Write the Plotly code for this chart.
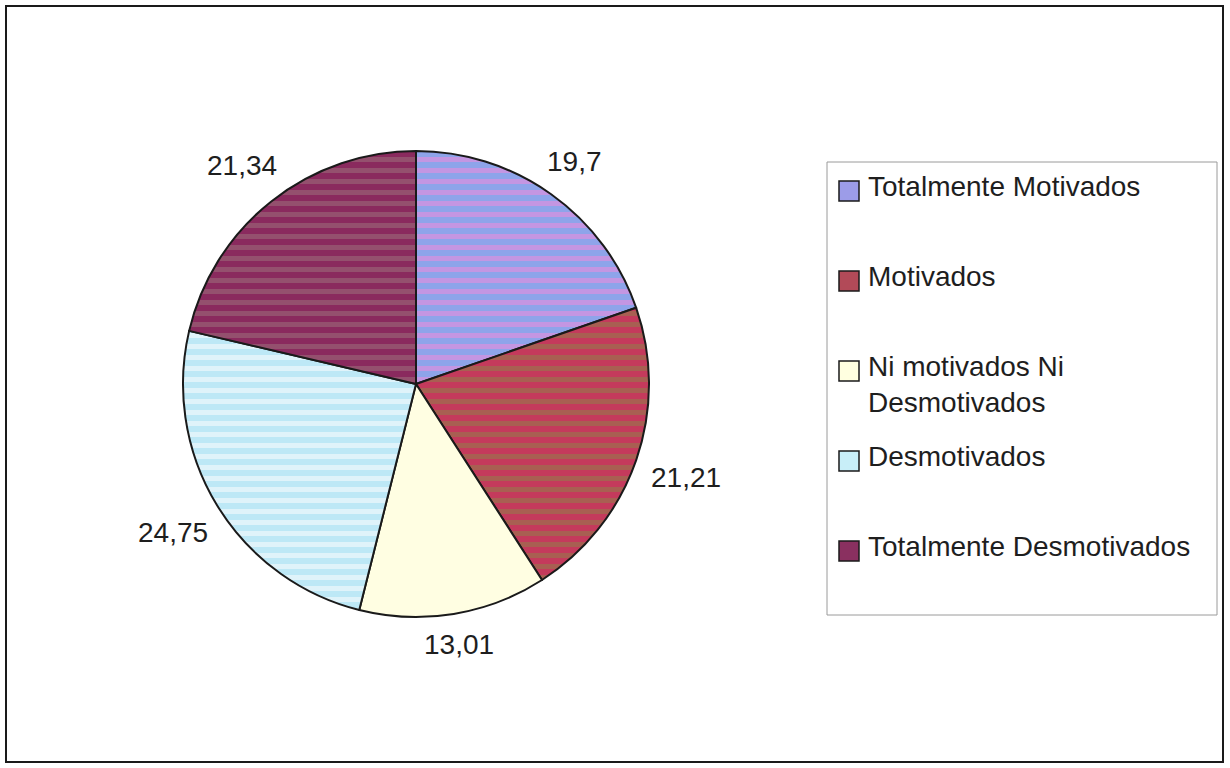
import math
import plotly.graph_objects as go

# ---- data ----
categories = [
    "Totalmente Motivados",
    "Motivados",
    "Ni motivados Ni Desmotivados",
    "Desmotivados",
    "Totalmente Desmotivados",
]
values = [19.7, 21.21, 13.01, 24.75, 21.34]

# ---- styles ----
W, H = 1230, 768
fill_colors = ["#8ea4ea", "#c43a5c", "#fffee2", "#bde8f6", "#8a2a5e"]
stripe_colors = ["#c496e2", "#a85f52", "#fffee2", "#dff3fa", "#94506e"]
swatch_colors = ["#9c9ce8", "#b24a58", "#ffffe0", "#c8eef8", "#8a3060"]
FONT = "Liberation Sans, Arial, sans-serif"
FS = 28
TEXT_COLOR = "#1e1e1e"

cx, cy, r = 416, 384, 233  # pie centre and radius in pixels


def px(x):
    return x / W


def py(y):
    return 1 - y / H


fig = go.Figure()
fig.add_trace(
    go.Pie(
        labels=categories,
        values=values,
        sort=False,
        direction="clockwise",
        rotation=0,
        textinfo="none",
        hoverinfo="label+value",
        showlegend=False,
        marker=dict(
            colors=fill_colors,
            line=dict(color="#1a1a1a", width=2),
            pattern=dict(
                shape=["-", "-", "", "-", "-"],
                bgcolor=fill_colors,
                fgcolor=stripe_colors,
                size=11,
                solidity=0.45,
            ),
        ),
        domain=dict(
            x=[px(cx - r), px(cx + r)],
            y=[py(cy + r), py(cy - r)],
        ),
    )
)

annotations = []
shapes = []

# value labels outside the slices
total = sum(values)
cum = 0.0
for v in values:
    mid = (cum + v / 2) / total * 2 * math.pi
    cum += v
    txt = f"{v:g}".replace(".", ",")
    w = len(txt) * 0.55 * FS
    h = FS * 0.95
    s, c = math.sin(mid), math.cos(mid)
    R = r + 12 + 0.5 * (w * abs(s) + h * abs(c))
    x = cx + R * s
    y = cy - R * c
    annotations.append(
        dict(
            x=px(x), y=py(y), xref="paper", yref="paper",
            text=txt, showarrow=False, xanchor="center", yanchor="middle",
            font=dict(family=FONT, size=FS, color=TEXT_COLOR),
        )
    )

# outer frame
shapes.append(dict(type="rect", xref="paper", yref="paper",
                   x0=px(6), x1=px(1223), y0=py(762), y1=py(6),
                   line=dict(color="#1a1a1a", width=2)))

# legend box
shapes.append(dict(type="rect", xref="paper", yref="paper",
                   x0=px(827), x1=px(1217), y0=py(615), y1=py(162),
                   line=dict(color="#9a9a9a", width=1)))

for i, cat in enumerate(categories):
    top = 181 + 90 * i
    shapes.append(dict(type="rect", xref="paper", yref="paper",
                       x0=px(839), x1=px(859), y0=py(top + 20), y1=py(top),
                       fillcolor=swatch_colors[i],
                       line=dict(color="#1a1a1a", width=1.5)))
    label = cat.replace("Ni motivados Ni ", "Ni motivados Ni<br>")
    annotations.append(
        dict(
            x=px(866), y=py(top - 12), xref="paper", yref="paper",
            text=label, showarrow=False, xanchor="left", yanchor="top",
            align="left",
            font=dict(family=FONT, size=FS, color=TEXT_COLOR),
        )
    )

fig.update_layout(
    width=W,
    height=H,
    margin=dict(l=0, r=0, t=0, b=0),
    paper_bgcolor="white",
    plot_bgcolor="white",
    showlegend=False,
    annotations=annotations,
    shapes=shapes,
)

fig.write_html("out.html")
